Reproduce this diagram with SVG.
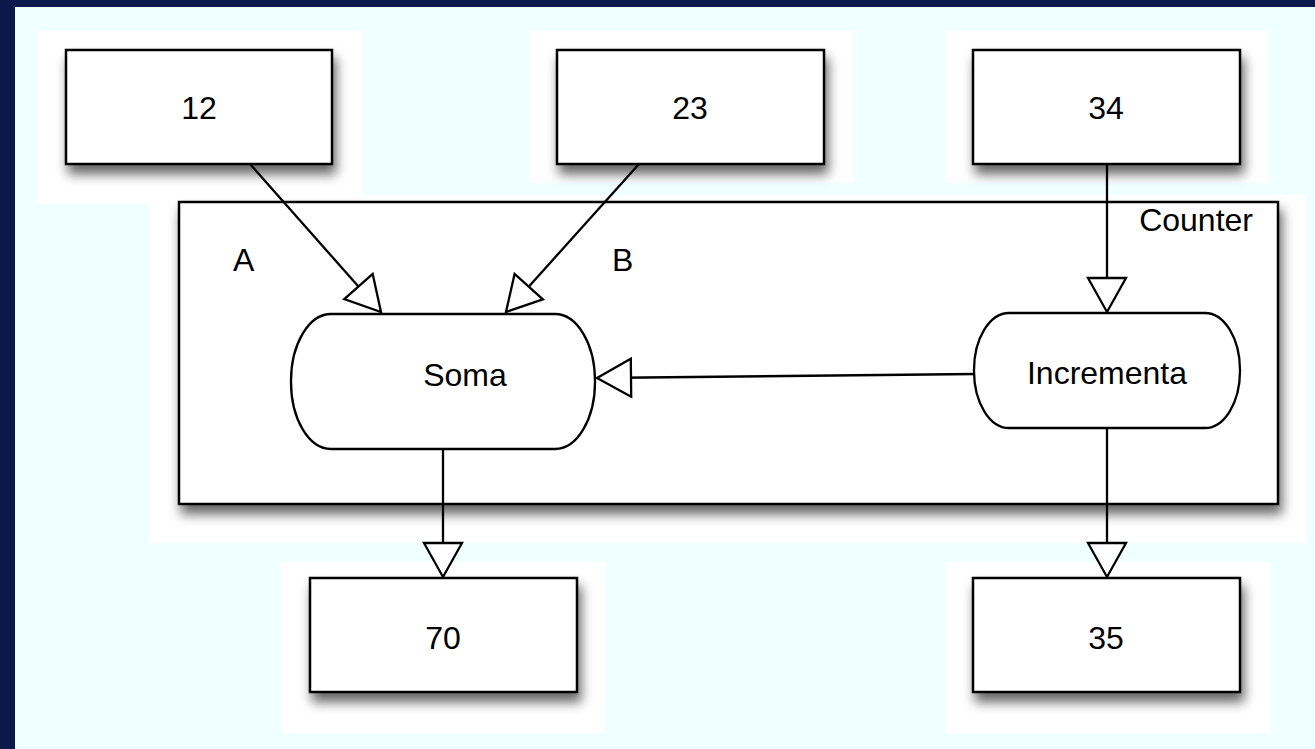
<svg xmlns="http://www.w3.org/2000/svg" width="1315" height="749" viewBox="0 0 1315 749">
<style>
  .box { fill: #ffffff; stroke: #000000; stroke-width: 2.5; }
  .shape { fill: #ffffff; stroke: #000000; stroke-width: 2.3; }
  .lbl { font-family: "Liberation Sans", Arial, sans-serif; font-size: 32px; fill: #000000; }
  .num { font-family: "Liberation Sans", Arial, sans-serif; font-size: 32px; fill: #000000; text-anchor: middle; }
  .edge { fill: none; stroke: #000000; stroke-width: 2.3; marker-end: url(#tri); }
  .panel { fill: #ffffff; }
</style>
<defs>
  <filter id="shadow" x="-10%" y="-10%" width="130%" height="145%">
    <feDropShadow dx="3" dy="9" stdDeviation="6" flood-color="#000000" flood-opacity="0.6"/>
  </filter>
  <marker id="tri" markerUnits="userSpaceOnUse" markerWidth="44" markerHeight="44" refX="34" refY="19" orient="auto" overflow="visible">
    <path d="M0,0 L34,19 L0,38 Z" fill="#ffffff" stroke="#000000" stroke-width="2.3" stroke-linejoin="miter"/>
  </marker>
</defs>

<!-- backgrounds -->
<rect x="0" y="0" width="1315" height="749" fill="#0c1849"/>
<rect x="15" y="7" width="1300" height="742" fill="#f0ffff"/>
<g id="panels">
  <rect class="panel" x="38" y="31" width="324" height="173"/>
  <rect class="panel" x="529" y="31" width="324" height="152"/>
  <rect class="panel" x="945" y="31" width="323" height="152"/>
  <rect class="panel" x="150" y="195" width="1156" height="348"/>
  <rect class="panel" x="281" y="562" width="324" height="171"/>
  <rect class="panel" x="945" y="562" width="325" height="171"/>
</g>

<g id="counter">
  <rect class="box" x="179" y="202" width="1099" height="302" filter="url(#shadow)"/>
  <text class="lbl" x="1253" y="231" text-anchor="end">Counter</text>
  <text class="lbl" x="233" y="271">A</text>
  <text class="lbl" x="612" y="271">B</text>
</g>

<g id="n12">
  <rect class="box" x="66" y="50" width="266" height="114" filter="url(#shadow)"/>
  <text class="num" x="199" y="119">12</text>
</g>
<g id="n23">
  <rect class="box" x="557" y="50" width="267" height="114" filter="url(#shadow)"/>
  <text class="num" x="690" y="119">23</text>
</g>
<g id="n34">
  <rect class="box" x="973" y="50" width="267" height="114" filter="url(#shadow)"/>
  <text class="num" x="1106" y="119">34</text>
</g>

<g id="soma">
  <rect class="shape" x="291" y="314" width="304" height="135" rx="40" ry="67"/>
  <text class="lbl" x="465" y="386" text-anchor="middle">Soma</text>
</g>
<g id="incrementa">
  <rect class="shape" x="974" y="313" width="266" height="115" rx="35" ry="57"/>
  <text class="lbl" x="1107" y="384" text-anchor="middle">Incrementa</text>
</g>

<g id="n70">
  <rect class="box" x="310" y="578" width="267" height="114" filter="url(#shadow)"/>
  <text class="num" x="443" y="649">70</text>
</g>
<g id="n35">
  <rect class="box" x="973" y="578" width="267" height="114" filter="url(#shadow)"/>
  <text class="num" x="1106" y="649">35</text>
</g>

<g id="connectors">
  <path class="edge" d="M250,164 L381,312"/>
  <path class="edge" d="M639,164 L506,312"/>
  <path class="edge" d="M1107,164 L1107,312"/>
  <path class="edge" d="M975,374 L597,378"/>
  <path class="edge" d="M443,449 L443,577"/>
  <path class="edge" d="M1107,428 L1107,577"/>
</g>
</svg>
